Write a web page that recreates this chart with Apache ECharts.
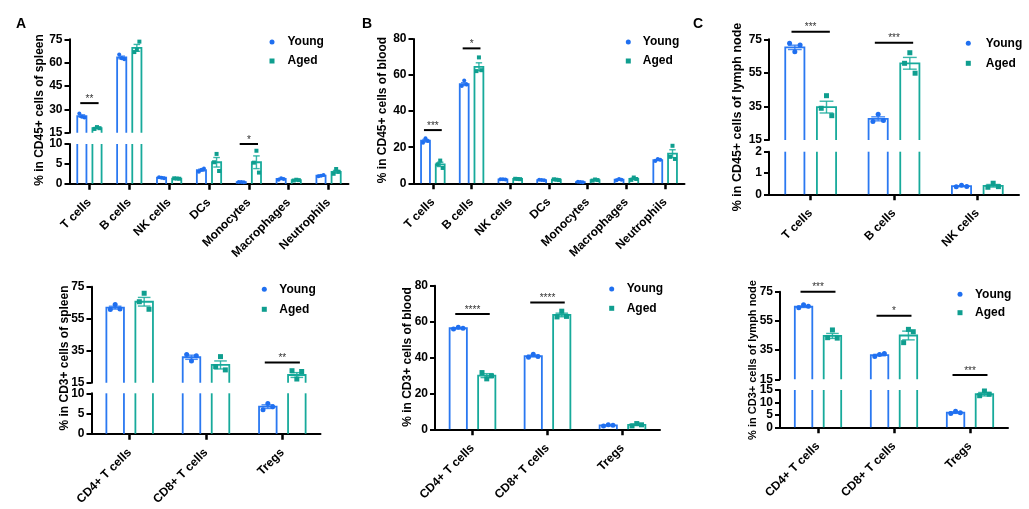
<!DOCTYPE html>
<html><head><meta charset="utf-8">
<script src="https://cdn.jsdelivr.net/npm/echarts@6/dist/echarts.min.js"></script>
<style>html,body{margin:0;padding:0;background:#fff}#c{width:1029px;height:509px}</style>
</head><body><div id="c"></div>
<script>
// ---------- categories ----------
const cd45Cats = ['T cells','B cells','NK cells','DCs','Monocytes','Macrophages','Neutrophils'];
const lnCd45Cats = ['T cells','B cells','NK cells'];
const cd3Cats = ['CD4+ T cells','CD8+ T cells','Tregs'];

// ---------- tick labels ----------
const ticksA1Upper = [15,30,45,60,75];
const ticksA1Lower = [0,5,10];
const ticksB1 = [0,20,40,60,80];
const ticksC1Upper = [15,35,55,75];
const ticksC1Lower = [0,1,2];
const ticksA2Upper = [15,35,55,75];
const ticksA2Lower = [0,5,10];
const ticksB2 = [0,20,40,60,80];
const ticksC2Upper = [15,35,55,75];
const ticksC2Lower = [0,5,10,15];

// ---------- A top: % in CD45+ cells of spleen ----------
const spleenCd45YoungMean = [25.7, 63.3, 1.5, 3.4, 0.4, 1.2, 2.0];
const spleenCd45YoungSem  = [0.8, 0.9, 0.1, 0.25, 0.05, 0.15, 0.1];
const spleenCd45YoungPts  = [[27.3,25.2,24.8],[65.2,62.8,62.2],[1.6,1.5,1.4],[3.0,3.5,3.8],[0.45,0.4,0.35],[1.0,1.4,1.2],[1.9,2.0,2.2]];
const spleenCd45AgedMean  = [18.0, 69.5, 1.3, 5.4, 5.4, 0.9, 3.0];
const spleenCd45AgedSem   = [0.4, 2.2, 0.05, 1.2, 1.6, 0.1, 0.35];
const spleenCd45AgedPts   = [[17.4,18.6,17.9],[66.8,68.3,73.5],[1.35,1.3,1.25],[5.4,7.5,3.2],[5.3,8.3,2.8],[0.8,1.0,0.9],[2.5,3.7,3.0]];
const spleenCd45Sig = [[0, 34, '**'], [4, 10, '*']];

// ---------- B top: % in CD45+ cells of blood ----------
const bloodCd45YoungMean = [23.6, 55.0, 2.2, 1.8, 0.7, 2.0, 12.9];
const bloodCd45YoungSem  = [0.7, 0.8, 0.1, 0.1, 0.05, 0.2, 0.3];
const bloodCd45YoungPts  = [[22.5,25.0,23.5],[54.0,57.0,54.8],[2.3,2.2,2.1],[1.9,1.8,1.7],[0.8,0.7,0.6],[1.7,2.4,2.0],[12.4,13.5,13.0]];
const bloodCd45AgedMean  = [10.5, 64.6, 2.4, 2.0, 1.8, 2.5, 16.4];
const bloodCd45AgedSem   = [1.2, 2.2, 0.1, 0.15, 0.2, 0.4, 2.2];
const bloodCd45AgedPts   = [[10.5,12.6,8.5],[62.2,69.8,62.7],[2.5,2.4,2.3],[2.2,2.0,1.8],[1.5,2.1,1.8],[1.9,3.2,2.4],[14.7,20.8,13.5]];
const bloodCd45Sig = [[0, 29.5, '***'], [1, 74.8, '*']];

// ---------- C top: % in CD45+ cells of lymph node ----------
const lnCd45YoungMean = [70.2, 27.6, 0.38];
const lnCd45YoungSem  = [1.3, 1.2, 0.02];
const lnCd45YoungPts  = [[72.6,67.6,71.6],[26.0,30.3,26.6],[0.36,0.42,0.37]];
const lnCd45AgedMean  = [34.6, 60.7, 0.40];
const lnCd45AgedSem   = [3.5, 3.5, 0.06];
const lnCd45AgedPts   = [[33.9,41.4,29.5],[60.7,67.0,54.8],[0.33,0.52,0.36]];
const lnCd45Sig = [[0, 79.5, '***'], [1, 73, '***']];

// ---------- A bottom: % in CD3+ cells of spleen ----------
const spleenCd3YoungMean = [61.9, 30.9, 6.7];
const spleenCd3YoungSem  = [0.9, 1.3, 0.45];
const spleenCd3YoungPts  = [[60.8,63.8,61.0],[32.6,28.5,31.8],[5.9,7.5,6.7]];
const spleenCd3AgedMean  = [65.6, 26.1, 19.8];
const spleenCd3AgedSem   = [2.7, 2.5, 1.5];
const spleenCd3AgedPts   = [[65.6,70.9,60.9],[25.0,31.3,23.0],[22.5,17.3,22.0]];
const spleenCd3Sig = [[2, 27.7, '**']];

// ---------- B bottom: % in CD3+ cells of blood ----------
const bloodCd3YoungMean = [56.3, 40.8, 2.2];
const bloodCd3YoungSem  = [0.3, 0.5, 0.2];
const bloodCd3YoungPts  = [[55.9,56.8,56.3],[40.2,41.8,40.6],[1.9,2.5,2.2]];
const bloodCd3AgedMean  = [29.9, 63.7, 2.5];
const bloodCd3AgedSem   = [1.1, 1.0, 0.4];
const bloodCd3AgedPts   = [[31.6,28.1,29.8],[62.6,65.8,62.9],[1.9,3.2,2.5]];
const bloodCd3Sig = [[0, 64.2, '****'], [1, 70.7, '****']];

// ---------- C bottom: % in CD3+ cells of lymph node ----------
const lnCd3YoungMean = [64.7, 31.6, 5.9];
const lnCd3YoungSem  = [0.5, 0.5, 0.3];
const lnCd3YoungPts  = [[64.0,66.0,65.0],[30.7,32.0,32.6],[5.5,6.5,5.9]];
const lnCd3AgedMean  = [44.7, 45.0, 13.3];
const lnCd3AgedSem   = [1.7, 3.0, 0.7];
const lnCd3AgedPts   = [[43.5,48.8,43.2],[40.1,49.2,47.6],[12.7,14.6,13.3]];
const lnCd3Sig = [[0, 75, '***'], [1, 58.6, '*'], [2, 17.9, '***']];

// ---------- styling ----------
const YOUNG = '#2a78f1';
const AGED = '#17aa9b';
const YOUNG_DOT = '#1f6ff0';
const AGED_DOT = '#0f9e8f';
const FONT = '"Liberation Sans", Arial, Helvetica, sans-serif';

const panels = [
  { cats: cd45Cats, title: '% in CD45+ cells of spleen', titlePos: [40, 110], titleSize: 12,
    young: [spleenCd45YoungMean, spleenCd45YoungSem, spleenCd45YoungPts],
    aged: [spleenCd45AgedMean, spleenCd45AgedSem, spleenCd45AgedPts], sig: spleenCd45Sig,
    dot: 2, segs: [
      { min: 15, max: 75, ticks: ticksA1Upper, grid: { left: 69.5, top: 39.3, width: 279, height: 93.4 } },
      { min: 0, max: 10, ticks: ticksA1Lower, grid: { left: 69.5, top: 144, width: 279, height: 39.7 } } ],
    legend: { left: 269.5, top: 36, gap: 7, pad: 8 } },
  { cats: cd45Cats, title: '% in CD45+ cells of blood', titlePos: [383, 110], titleSize: 12,
    young: [bloodCd45YoungMean, bloodCd45YoungSem, bloodCd45YoungPts],
    aged: [bloodCd45AgedMean, bloodCd45AgedSem, bloodCd45AgedPts], sig: bloodCd45Sig,
    dot: 2, segs: [
      { min: 0, max: 80, ticks: ticksB1, grid: { left: 413.5, top: 39, width: 271, height: 144.3 } } ],
    legend: { left: 625.8, top: 36, gap: 7, pad: 7 } },
  { cats: lnCd45Cats, title: '% in CD45+ cells of lymph node', titlePos: [738, 117], titleSize: 12.5,
    young: [lnCd45YoungMean, lnCd45YoungSem, lnCd45YoungPts],
    aged: [lnCd45AgedMean, lnCd45AgedSem, lnCd45AgedPts], sig: lnCd45Sig,
    dot: 2.5, segs: [
      { min: 15, max: 75, ticks: ticksC1Upper, grid: { left: 769, top: 39.3, width: 250, height: 100.7 } },
      { min: 0, max: 2, ticks: ticksC1Lower, grid: { left: 769, top: 151.7, width: 250, height: 42.6 } } ],
    legend: { left: 965.8, top: 37.3, gap: 8, pad: 10 } },
  { cats: cd3Cats, title: '% in CD3+ cells of spleen', titlePos: [65, 358], titleSize: 12,
    young: [spleenCd3YoungMean, spleenCd3YoungSem, spleenCd3YoungPts],
    aged: [spleenCd3AgedMean, spleenCd3AgedSem, spleenCd3AgedPts], sig: spleenCd3Sig,
    dot: 2.5, segs: [
      { min: 15, max: 75, ticks: ticksA2Upper, grid: { left: 91.5, top: 286.7, width: 229, height: 96 } },
      { min: 0, max: 10, ticks: ticksA2Lower, grid: { left: 91.5, top: 393.3, width: 229, height: 40.4 } } ],
    legend: { left: 261.8, top: 283.3, gap: 8, pad: 7.5 } },
  { cats: cd3Cats, title: '% in CD3+ cells of blood', titlePos: [408, 357], titleSize: 12,
    young: [bloodCd3YoungMean, bloodCd3YoungSem, bloodCd3YoungPts],
    aged: [bloodCd3AgedMean, bloodCd3AgedSem, bloodCd3AgedPts], sig: bloodCd3Sig,
    dot: 2.5, segs: [
      { min: 0, max: 80, ticks: ticksB2, grid: { left: 435, top: 285.7, width: 225, height: 143.6 } } ],
    legend: { left: 609.2, top: 283, gap: 7.3, pad: 7.5 } },
  { cats: cd3Cats, title: '% in CD3+ cells of lymph node', titlePos: [753, 360], titleSize: 11,
    young: [lnCd3YoungMean, lnCd3YoungSem, lnCd3YoungPts],
    aged: [lnCd3AgedMean, lnCd3AgedSem, lnCd3AgedPts], sig: lnCd3Sig,
    dot: 2.5, segs: [
      { min: 15, max: 75, ticks: ticksC2Upper, grid: { left: 780, top: 291.7, width: 228, height: 87.6 } },
      { min: 0, max: 15, ticks: ticksC2Lower, grid: { left: 780, top: 390, width: 228, height: 37.3 } } ],
    legend: { left: 957.5, top: 288.3, gap: 6.4, pad: 7.5 } }
];

function barRender(seg, sign, isAged, lineColor, dotColor, dotR) {
  return function (params, api) {
    const cat = api.value(0), mean = api.value(1), sem = api.value(2);
    const band = api.size([1, 0])[0];
    const cx = api.coord([cat, seg.min])[0] + sign * band * 0.19;
    const hw = band * 0.115;
    const kids = [];
    const lw = 1.8;
    if (mean > seg.min) {
      const yb = api.coord([cat, seg.min])[1];
      const yt = api.coord([cat, Math.min(mean, seg.max)])[1];
      if (mean <= seg.max) {
        kids.push({ type: 'polyline', shape: { points: [[cx - hw, yb], [cx - hw, yt], [cx + hw, yt], [cx + hw, yb]] },
          style: { stroke: lineColor, lineWidth: lw, fill: null } });
      } else {
        kids.push({ type: 'line', shape: { x1: cx - hw, y1: yb, x2: cx - hw, y2: yt }, style: { stroke: lineColor, lineWidth: lw } });
        kids.push({ type: 'line', shape: { x1: cx + hw, y1: yb, x2: cx + hw, y2: yt }, style: { stroke: lineColor, lineWidth: lw } });
      }
    }
    if (mean >= seg.min && mean <= seg.max) {
      const yHi = api.coord([cat, mean + sem])[1];
      const yLo = api.coord([cat, Math.max(mean - sem, seg.min)])[1];
      const cap = hw * 0.72;
      const es = { stroke: lineColor, lineWidth: 1.4, opacity: 0.85 };
      kids.push({ type: 'line', shape: { x1: cx, y1: yHi, x2: cx, y2: yLo }, style: es });
      kids.push({ type: 'line', shape: { x1: cx - cap, y1: yHi, x2: cx + cap, y2: yHi }, style: es });
      kids.push({ type: 'line', shape: { x1: cx - cap, y1: yLo, x2: cx + cap, y2: yLo }, style: es });
    }
    const jit = [-0.55, 0, 0.55];
    for (let j = 0; j < 3; j++) {
      const v = api.value(3 + j);
      if (v < seg.min || v > seg.max) continue;
      const p = api.coord([cat, v]);
      const x = cx + jit[j] * Math.min(hw, 10);
      if (isAged) {
        kids.push({ type: 'rect', shape: { x: x - dotR, y: p[1] - dotR, width: dotR * 2, height: dotR * 2 }, style: { fill: dotColor } });
      } else {
        kids.push({ type: 'circle', shape: { cx: x, cy: p[1], r: dotR }, style: { fill: dotColor } });
      }
    }
    return { type: 'group', children: kids };
  };
}

function sigRender(items) {
  return function (params, api) {
    const it = items[params.dataIndex];
    const band = api.size([1, 0])[0];
    const p = api.coord([it[0], it[1]]);
    const hl = band * 0.23;
    return { type: 'group', children: [
      { type: 'line', shape: { x1: p[0] - hl, y1: p[1], x2: p[0] + hl, y2: p[1] }, style: { stroke: '#000', lineWidth: 2 } },
      { type: 'text', x: p[0], y: p[1] - 4, style: { text: it[2], align: 'center', verticalAlign: 'middle', fontSize: 10, fill: '#333', fontFamily: FONT } }
    ] };
  };
}

const grid = [], xAxis = [], yAxis = [], series = [], legend = [], graphic = [];
panels.forEach(function (p) {
  const nSeg = p.segs.length;
  p.segs.forEach(function (seg, si) {
    const gi = grid.length;
    const isBottom = si === nSeg - 1;
    grid.push(Object.assign({ containLabel: false }, seg.grid));
    xAxis.push({
      type: 'category', gridIndex: gi, data: p.cats, show: isBottom, boundaryGap: true,
      axisLine: { show: true, onZero: false, lineStyle: { color: '#000', width: 2 } },
      axisTick: { show: true, alignWithLabel: true, length: 6, lineStyle: { color: '#000', width: 2.5 } },
      axisLabel: { interval: 0, rotate: 45, margin: 17, fontSize: 12, fontWeight: 'bold', color: '#000', fontFamily: FONT },
      splitLine: { show: false }
    });
    yAxis.push({
      type: 'value', gridIndex: gi, min: seg.min, max: seg.max,
      splitLine: { show: false },
      axisLine: { show: true, lineStyle: { color: '#000', width: 2 } },
      axisTick: { show: true, length: 5, customValues: seg.ticks, lineStyle: { color: '#000', width: 2 } },
      axisLabel: { customValues: seg.ticks, margin: 7, fontSize: 12, fontWeight: 'bold', color: '#000', fontFamily: FONT }
    });
    [['Young', p.young, -1, false, YOUNG, YOUNG_DOT], ['Aged', p.aged, 1, true, AGED, AGED_DOT]].forEach(function (g) {
      const arr = g[1];
      series.push({
        type: 'custom', name: g[0], xAxisIndex: gi, yAxisIndex: gi, silent: true,
        itemStyle: { color: g[5] },
        encode: { x: 0, y: 1 },
        data: p.cats.map(function (c, i) { return [i, arr[0][i], arr[1][i], arr[2][i][0], arr[2][i][1], arr[2][i][2]]; }),
        renderItem: barRender(seg, g[2], g[3], g[4], g[5], p.dot)
      });
    });
    const items = p.sig.filter(function (s) {
      if (nSeg === 1) return true;
      return si === 0 ? s[1] >= seg.min : s[1] < p.segs[0].min;
    });
    if (items.length) {
      series.push({
        type: 'custom', name: 'sig', xAxisIndex: gi, yAxisIndex: gi, silent: true,
        encode: { x: 0, y: 1 },
        data: items.map(function (s) { return [s[0], s[1]]; }),
        renderItem: sigRender(items)
      });
    }
  });
  legend.push({
    orient: 'vertical', left: p.legend.left, top: p.legend.top, padding: 0,
    itemWidth: 5, itemHeight: 5, itemGap: p.legend.gap, selectedMode: false,
    textStyle: { fontSize: 12, fontWeight: 'bold', color: '#000', fontFamily: FONT, padding: [0, 0, 0, p.legend.pad] },
    data: [{ name: 'Young', icon: 'circle' }, { name: 'Aged', icon: 'rect' }]
  });
  graphic.push({
    type: 'text', x: p.titlePos[0], y: p.titlePos[1], rotation: Math.PI / 2,
    style: { text: p.title, align: 'center', verticalAlign: 'middle', fontSize: p.titleSize, fontWeight: 'bold', fill: '#000', fontFamily: FONT }
  });
});

const chart = echarts.init(document.getElementById('c'), null, { renderer: 'canvas' });
chart.setOption({
  animation: false,
  backgroundColor: '#fff',
  title: [
    { text: 'A', left: 16, top: 17, padding: 0, textStyle: { fontSize: 14, fontWeight: 'bold', color: '#000', fontFamily: FONT } },
    { text: 'B', left: 362, top: 17, padding: 0, textStyle: { fontSize: 14, fontWeight: 'bold', color: '#000', fontFamily: FONT } },
    { text: 'C', left: 693, top: 17, padding: 0, textStyle: { fontSize: 14, fontWeight: 'bold', color: '#000', fontFamily: FONT } }
  ],
  grid: grid, xAxis: xAxis, yAxis: yAxis, series: series, legend: legend, graphic: graphic
});
</script>
</body></html>
